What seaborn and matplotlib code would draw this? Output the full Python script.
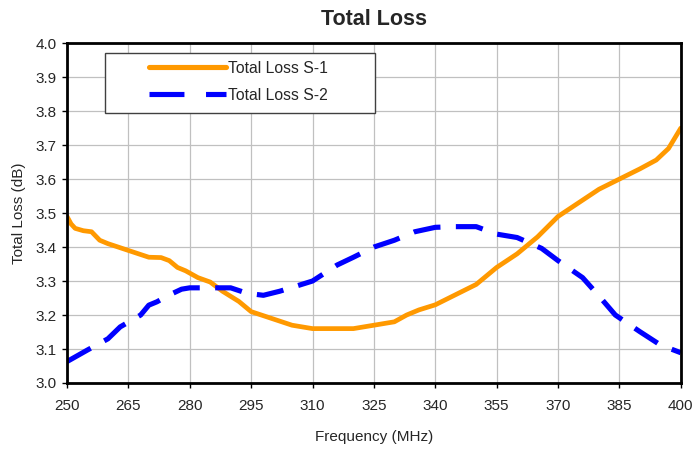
import matplotlib
matplotlib.use("Agg")
import matplotlib.pyplot as plt
from matplotlib.patches import Rectangle
import seaborn as sns
import pandas as pd

# Frequency points (MHz) and loss values (dB)
freq_s1 = [250, 251, 252, 254, 256, 258, 260, 265, 270, 273, 275, 277, 279, 282, 285,
           288, 292, 295, 300, 305, 310, 315, 320, 325, 330, 333, 336, 340, 345,
           350, 355, 360, 365, 370, 375, 380, 385, 390, 394, 397, 400]
loss_s1 = [3.49, 3.468, 3.455, 3.448, 3.445, 3.42, 3.41, 3.39, 3.37, 3.369, 3.36, 3.34,
           3.33, 3.31, 3.297, 3.27, 3.24, 3.21, 3.19, 3.17, 3.16, 3.16, 3.16, 3.17,
           3.18, 3.20, 3.215, 3.23, 3.26, 3.29, 3.34, 3.38, 3.43, 3.49, 3.53, 3.57,
           3.60, 3.63, 3.656, 3.69, 3.75]

freq_s2 = [250, 255, 260, 263, 268, 270, 272, 275, 278, 280, 285, 290, 294, 298,
           302, 306, 310, 316, 320, 325, 330, 335, 340, 345, 350, 355, 360, 366,
           370, 376, 380, 384, 390, 395, 400]
loss_s2 = [3.063, 3.097, 3.13, 3.165, 3.2, 3.229, 3.239, 3.259, 3.276, 3.28, 3.28,
           3.28, 3.264, 3.258, 3.27, 3.285, 3.30, 3.347, 3.37, 3.40, 3.42, 3.445,
           3.458, 3.46, 3.46, 3.438, 3.428, 3.396, 3.36, 3.31, 3.256, 3.20, 3.151,
           3.112, 3.089]

df1 = pd.DataFrame({"Frequency": freq_s1, "Loss": loss_s1})
df2 = pd.DataFrame({"Frequency": freq_s2, "Loss": loss_s2})

sns.set_style("white")
plt.rcParams["font.family"] = ["Liberation Sans", "DejaVu Sans"]

fig = plt.figure(figsize=(6.94, 4.49), dpi=100)
ax = fig.add_axes([0.0965, 0.147, 0.8845, 0.757])

sns.lineplot(data=df1, x="Frequency", y="Loss", ax=ax, color="#FF9900",
             linewidth=3.4, label="Total Loss S-1")
sns.lineplot(data=df2, x="Frequency", y="Loss", ax=ax, color="#0000FF",
             linewidth=3.7, label="Total Loss S-2")
ax.lines[-1].set_dashes([5.3, 3.0])
ax.lines[-1].set_dash_capstyle("butt")

ax.set_xlim(250, 400)
ax.set_ylim(3.0, 4.0)
ax.set_xticks(range(250, 401, 15))
ax.set_yticks([3.0 + 0.1 * i for i in range(11)])
ax.set_yticklabels([f"{3.0 + 0.1 * i:.1f}" for i in range(11)])
ax.grid(True, color="#C0C0C0", linewidth=0.9)
ax.set_axisbelow(True)
for sp in ax.spines.values():
    sp.set_color("black")
    sp.set_linewidth(2)
ax.tick_params(axis="both", direction="out", length=3.6, width=1, color="black",
               labelsize=11, left=True, bottom=True)
ax.tick_params(axis="x", pad=8)
ax.tick_params(axis="y", pad=4)

ax.set_xlabel("Frequency (MHz)", fontsize=11, labelpad=12)
ax.set_ylabel("Total Loss (dB)", fontsize=11, labelpad=7)
ax.set_title("Total Loss", fontsize=15.5, fontweight="bold", pad=13)

# legend box drawn as its own rectangle, entries placed inside it
ax.add_patch(Rectangle((0.062, 0.794), 0.4397, 0.1766, transform=ax.transAxes,
                       facecolor="white", edgecolor="#404040", linewidth=1,
                       zorder=4))
leg = ax.legend(loc="center left", bbox_to_anchor=(0.1336, 0.886), fontsize=11.3,
                frameon=False, handlelength=4.9, handletextpad=0.15,
                borderpad=0, labelspacing=0.75, borderaxespad=0)
leg.set_zorder(5)
for h in leg.get_lines():
    h.set_linewidth(3.7)
leg.get_lines()[1].set_dashes([6.8, 4.2])
leg.get_lines()[1].set_dash_capstyle("butt")

fig.savefig("out.png", dpi=100)
